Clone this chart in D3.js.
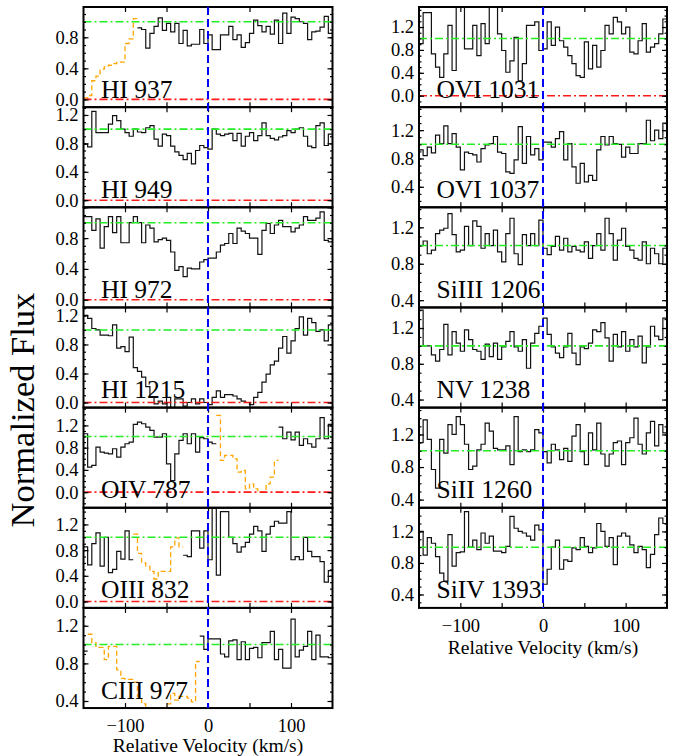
<!DOCTYPE html>
<html lang="en">
  <head>
    <meta charset="utf-8" />
    <title>Normalized flux stack</title>
    <script src="https://cdnjs.cloudflare.com/ajax/libs/d3/7.8.5/d3.min.js"></script>
    <style>
      body {
        margin: 0;
        background: #fff;
      }
      text {
        font-family: "Liberation Serif", "Times New Roman", serif;
        fill: #000;
      }
    </style>
  </head>
  <body>
    <svg id="chart" width="683" height="756"></svg>
    <script>
      // velocity grid: every series is binned at 5 km/s, starting at v0
      const binWidth = 5;
      const velDomain = [-150, 150];
      const xMajor = [-100, -50, 0, 50, 100];
      const xLabels = [-100, 0, 100];

      // left column
      const hi937Blend = [0.02, 0.05, 0.24, 0.3, 0.39, 0.42, 0.44, 0.46, 0.48, 0.48, 0.72, 0.78, 1.04];
      const hi937 = [0.92, 0.9, 0.66, 0.85, 0.94, 1.05, 0.89, 0.98, 0.87, 0.98, 0.72, 0.89, 0.69, 0.71, 0.71, 0.9, 0.72,
        0.83, 0.64, 0.64, 0.83, 0.83, 0.94, 0.77, 0.83, 0.67, 0.73, 0.85, 1.02, 0.95, 0.87, 0.94, 0.84, 1.02, 0.72, 1.11,
        0.85, 1.06, 1.04, 1.0, 0.98, 0.77, 0.87, 0.88, 0.93, 1.07, 0.85];
      const hi949 = [0.79, 0.75, 1.25, 0.95, 0.95, 0.95, 1.07, 1.19, 1.12, 1.0, 0.95, 0.9, 1.0, 0.96, 0.95, 1.02, 1.05,
        0.86, 0.76, 0.93, 0.91, 0.76, 0.68, 0.63, 0.57, 0.66, 0.51, 0.7, 0.77, 0.74, 0.72, 1.0, 0.93, 0.91, 0.93, 0.94,
        0.84, 0.94, 0.76, 0.9, 0.95, 0.84, 0.91, 1.09, 0.91, 0.87, 0.85, 0.89, 0.91, 0.98, 0.95, 1.0, 1.02, 0.9, 0.76,
        0.74, 1.05, 1.09, 0.77, 0.93];
      const hi972 = [1.08, 1.08, 0.9, 1.05, 0.67, 0.95, 1.08, 0.87, 1.08, 0.74, 0.74, 1.0, 1.08, 1.0, 0.74, 0.97, 0.93,
        0.75, 0.78, 0.8, 0.77, 0.62, 0.38, 0.43, 0.3, 0.41, 0.4, 0.4, 0.49, 0.52, 0.54, 0.54, 0.62, 0.71, 0.73, 0.86,
        0.73, 0.93, 0.89, 0.86, 0.8, 0.8, 0.59, 0.9, 0.99, 0.86, 0.97, 1.03, 0.95, 0.95, 0.88, 0.93, 0.97, 1.08, 1.03,
        1.03, 1.06, 1.14, 0.77, 0.75];
      const hi1215 = [1.2, 1.16, 1.02, 1.0, 0.93, 0.93, 0.92, 1.07, 0.75, 0.77, 0.7, 0.9, 0.48, 0.43, 0.35, 0.22, 0.07,
        -0.02, 0.02, -0.02, 0.07, -0.07, 0.05, 0.05, -0.05, 0.0, 0.05, -0.02, 0.05, 0.0, -0.03, 0.07, 0.16, 0.07, 0.11,
        0.11, 0.09, 0.05, 0.02, 0.0, -0.03, 0.07, 0.14, 0.28, 0.39, 0.52, 0.57, 0.75, 0.91, 0.68, 0.85, 1.02, 1.18, 0.93,
        1.16, 1.1, 0.98, 1.0, 0.85, 1.07];
      const oiv787 = [1.05, 0.45, 0.48, 0.81, 0.72, 0.7, 0.69, 0.78, 0.63, 0.81, 0.87, 0.9, 1.22, 1.26, 1.23, 1.17, 1.11,
        0.99, 0.99, 1.05, 0.51, 0.21, 0.69, 0.93, 1.05, 0.87, 1.05, 0.72, 0.98, 0.96, 0.9, 0.87];
      const oiv787Blend = [1.38, 0.57, 0.66, 0.66, 0.6, 0.36, 0.39, 0.06, 0.15, 0.06, 0.0, 0.0, 0.15, 0.27, 0.57];
      const oiv787Red = [1.17, 0.96, 1.08, 0.94, 1.08, 0.84, 0.96, 0.87, 0.81, 0.96, 1.34, 0.96, 1.22];
      const oiii832 = [0.85, 0.57, 0.9, 1.07, 0.55, 1.0, 0.45, 0.5, 0.78, 0.66, 1.1, 0.65];
      const oiii832Blend = [1.05, 0.75, 0.6, 0.55, 0.47, 0.35, 0.47, 0.47, 0.47, 0.85, 0.99, 0.85];
      const oiii832Red = [0.72, 0.7, 1.1, 1.1, 0.83, 1.1, 0.65, 1.45, 0.41, 1.4, 1.4, 1.0, 0.9, 0.77, 0.85, 0.92, 1.05,
        1.17, 1.1, 0.78, 1.05, 1.17, 1.25, 1.22, 1.22, 1.4, 0.65, 0.7, 0.65, 1.0, 0.78, 0.7, 0.7, 0.62, 0.3, 0.48];
      const ciii977Edge = [0.93];
      const ciii977Blend = [1.11, 1.02, 0.97, 0.97, 0.84, 0.98, 0.98, 0.73, 0.64, 0.63, 0.63, 0.6, 0.45, 0.37, 0.33,
        0.3, 0.28, 0.28, 0.3, 0.37, 0.48, 0.41, 0.45, 0.45, 0.43, 0.39, 0.82];
      const ciii977 = [1.09, 0.95, 1.06, 1.06, 1.06, 0.9, 0.87, 1.04, 1.05, 0.84, 1.03, 0.84, 0.96, 0.97, 0.86, 1.02, 1.02,
        1.14, 0.84, 0.95, 0.75, 0.75, 1.27, 0.87, 0.94, 0.98, 1.14, 0.84, 1.1, 0.87, 0.87, 0.86];

      // right column
      const ovi1031 = [0.91, 1.45, 1.45, 0.73, 0.5, 0.32, 0.73, 1.23, 0.44, 1.6, 1.6, 0.82, 0.82, 1.23, 0.7, 1.26, 0.91,
        1.6, 1.6, 1.08, 0.79, 0.41, 0.61, 1.02, 0.26, 0.56, 1.23, 1.23, 1.29, 0.79, 0.82, 1.29, 0.88, 1.2, 0.96, 0.85,
        0.7, 0.56, 0.35, 0.32, 0.94, 0.47, 0.88, 0.5, 0.79, 1.23, 1.08, 1.37, 1.29, 1.08, 1.2, 0.76, 0.73, 0.96, 1.26,
        0.76, 0.85, 0.91, 1.08, 1.34];
      const ovi1037 = [0.92, 0.84, 0.96, 0.88, 1.13, 1.01, 1.26, 1.01, 1.15, 0.96, 0.64, 0.89, 0.87, 0.85, 0.75, 0.94,
        0.99, 1.01, 1.11, 0.89, 0.87, 0.61, 0.59, 0.78, 1.25, 0.73, 1.11, 0.85, 0.94, 0.78, 1.03, 1.03, 0.96, 1.08, 1.18,
        0.78, 1.01, 0.68, 0.45, 0.73, 0.47, 0.56, 0.49, 0.92, 1.11, 0.99, 1.11, 1.01, 1.0, 0.82, 0.96, 0.87, 0.87, 1.01,
        1.01, 1.34, 1.05, 1.2, 1.08, 1.3];
      const siiii1206 = [1.0, 1.05, 0.91, 0.95, 1.13, 1.17, 1.19, 1.35, 1.12, 0.93, 0.95, 1.21, 1.0, 1.27, 1.21, 0.97,
        1.13, 1.0, 1.17, 0.93, 0.82, 1.13, 1.3, 0.91, 0.79, 1.12, 1.0, 1.13, 1.0, 1.28, 0.97, 0.9, 0.99, 1.1, 0.95, 1.08,
        0.93, 0.99, 0.95, 0.93, 1.04, 0.86, 1.0, 1.13, 0.95, 1.3, 1.13, 0.84, 1.06, 1.19, 0.99, 0.95, 0.86, 0.84, 1.04,
        0.8, 0.97, 0.91, 0.8, 0.97];
      const nv1238 = [1.4, 1.0, 1.0, 0.9, 0.83, 0.96, 1.24, 0.9, 1.16, 1.03, 0.94, 1.18, 1.07, 0.96, 0.94, 0.85, 1.02,
        0.88, 1.03, 0.85, 0.99, 1.05, 1.16, 0.99, 0.94, 1.07, 0.75, 1.03, 1.14, 1.22, 1.31, 1.13, 0.99, 0.92, 0.87, 0.99,
        1.14, 0.92, 0.79, 0.99, 0.97, 1.03, 1.18, 1.16, 1.26, 1.09, 0.83, 1.13, 0.99, 1.16, 0.94, 1.07, 0.99, 1.11, 0.81,
        0.99, 1.22, 1.11, 1.07, 1.31];
      const siii1260 = [1.1, 1.38, 1.14, 0.77, 0.54, 1.14, 0.97, 1.32, 1.2, 1.42, 1.32, 1.08, 0.77, 0.81, 1.01, 1.08,
        1.34, 1.24, 1.03, 1.01, 1.01, 1.06, 0.83, 1.42, 0.99, 1.01, 0.99, 1.01, 1.26, 1.22, 0.99, 0.85, 1.08, 1.01, 0.89,
        1.03, 0.87, 1.18, 1.32, 0.99, 0.83, 1.22, 1.01, 1.34, 0.96, 0.81, 0.96, 1.1, 1.12, 0.83, 1.1, 1.16, 1.4, 1.08,
        0.96, 1.22, 1.36, 1.06, 1.32, 1.22];
      const siiv1393 = [1.2, 0.9, 1.12, 1.05, 0.88, 0.67, 0.57, 1.16, 0.76, 0.93, 0.94, 1.45, 1.0, 1.09, 0.97, 1.18, 1.05,
        1.14, 0.95, 0.95, 0.93, 1.01, 1.39, 1.24, 1.2, 1.18, 1.14, 1.09, 1.28, 1.22, 0.53, 0.72, 1.0, 1.09, 0.72, 0.84,
        0.82, 0.99, 0.97, 1.12, 1.01, 0.93, 0.99, 1.3, 1.2, 1.01, 1.12, 0.78, 1.14, 1.18, 1.14, 1.03, 0.93, 1.01, 0.97,
        0.74, 0.91, 1.16, 1.37, 1.3];

      // panel table (col, row, y range, labelled ticks, series pieces)
      const panels = [
        { col: 0, row: 0, name: "HI 937", yDomain: [-0.1, 1.19], yLabels: [0, 0.4, 0.8],
          series: [{ v0: -150, f: hi937Blend, blend: true }, { v0: -85, f: hi937 }] },
        { col: 0, row: 1, name: "HI 949", yDomain: [-0.1, 1.31], yLabels: [0, 0.4, 0.8, 1.2],
          series: [{ v0: -150, f: hi949 }] },
        { col: 0, row: 2, name: "HI 972", yDomain: [-0.1, 1.2], yLabels: [0, 0.4, 0.8],
          series: [{ v0: -150, f: hi972 }] },
        { col: 0, row: 3, name: "HI 1215", yDomain: [-0.07, 1.31], yLabels: [0, 0.4, 0.8, 1.2],
          series: [{ v0: -150, f: hi1215 }] },
        { col: 0, row: 4, name: "OIV 787", yDomain: [-0.28, 1.52], yLabels: [0, 0.4, 0.8, 1.2],
          series: [{ v0: -150, f: oiv787 }, { v0: 10, f: oiv787Blend, blend: true }, { v0: 85, f: oiv787Red }] },
        { col: 0, row: 5, name: "OIII 832", yDomain: [-0.1, 1.46], yLabels: [0, 0.4, 0.8, 1.2],
          series: [{ v0: -150, f: oiii832 }, { v0: -90, f: oiii832Blend, blend: true }, { v0: -30, f: oiii832Red }] },
        { col: 0, row: 6, name: "CIII 977", yDomain: [0.325, 1.39], yLabels: [0.4, 0.8, 1.2],
          series: [{ v0: -150, f: ciii977Edge }, { v0: -145, f: ciii977Blend, blend: true }, { v0: -10, f: ciii977 }] },
        { col: 1, row: 0, name: "OVI 1031", yDomain: [-0.2, 1.55], yLabels: [0, 0.4, 0.8, 1.2],
          series: [{ v0: -150, f: ovi1031 }] },
        { col: 1, row: 1, name: "OVI 1037", yDomain: [0.11, 1.525], yLabels: [0.4, 0.8, 1.2],
          series: [{ v0: -150, f: ovi1037 }] },
        { col: 1, row: 2, name: "SiIII 1206", yDomain: [0.32, 1.42], yLabels: [0.4, 0.8, 1.2],
          series: [{ v0: -150, f: siiii1206 }] },
        { col: 1, row: 3, name: "NV 1238", yDomain: [0.31, 1.43], yLabels: [0.4, 0.8, 1.2],
          series: [{ v0: -150, f: nv1238 }] },
        { col: 1, row: 4, name: "SiII 1260", yDomain: [0.3, 1.53], yLabels: [0.4, 0.8, 1.2],
          series: [{ v0: -150, f: siii1260 }] },
        { col: 1, row: 5, name: "SiIV 1393", yDomain: [0.23, 1.5], yLabels: [0.4, 0.8, 1.2],
          series: [{ v0: -150, f: siiv1393 }] },
      ];

      // layout
      const cols = [
        { left: 83.5, right: 332.5, rows: 7 },
        { left: 419, right: 667, rows: 6 },
      ];
      const top0 = 7;
      const panelH = 100.15;
      const fontTick = 18.5;

      const svg = d3.select("#chart");
      const defs = svg.append("defs");
      const fmt = d3.format(".1f");

      const stepLine = (x, y) =>
        d3.line().x((d) => x(d[0])).y((d) => y(d[1])).curve(d3.curveStepAfter);

      panels.forEach((p, k) => {
        const c = cols[p.col];
        const top = top0 + p.row * panelH;
        const bottom = top + panelH;
        const x = d3.scaleLinear().domain(velDomain).range([c.left, c.right]);
        const y = d3.scaleLinear().domain(p.yDomain).range([bottom, top]);
        const g = svg.append("g");

        defs.append("clipPath").attr("id", "clip" + k)
          .append("rect")
          .attr("x", c.left).attr("y", top)
          .attr("width", c.right - c.left).attr("height", bottom - top);
        const inner = g.append("g").attr("clip-path", `url(#clip${k})`);

        // spectra
        p.series.forEach((s) => {
          const pts = s.f.map((v, i) => [s.v0 + i * binWidth, v]);
          pts.push([s.v0 + s.f.length * binWidth, s.f[s.f.length - 1]]);
          inner.append("path")
            .attr("d", stepLine(x, y)(pts))
            .attr("fill", "none")
            .attr("stroke", s.blend ? "#ffa500" : "#111")
            .attr("stroke-width", s.blend ? 1.3 : 1.2)
            .attr("stroke-dasharray", s.blend ? "5,3" : null);
        });

        // continuum and zero level
        inner.append("line")
          .attr("x1", c.left).attr("x2", c.right)
          .attr("y1", y(1)).attr("y2", y(1))
          .attr("stroke", "#22ee22").attr("stroke-width", 1.6)
          .attr("stroke-dasharray", "8,3,2,3");
        if (p.yDomain[0] < 0) {
          inner.append("line")
            .attr("x1", c.left).attr("x2", c.right)
            .attr("y1", y(0)).attr("y2", y(0))
            .attr("stroke", "#ff1a1a").attr("stroke-width", 1.6)
            .attr("stroke-dasharray", "8,3,2,3");
        }

        // tick marks on all four sides
        const yMinor = d3.range(Math.ceil(p.yDomain[0] * 10), Math.floor(p.yDomain[1] * 10) + 1).map((v) => v / 10);
        const yMajor = yMinor.filter((v) => Math.abs(Math.round(v * 10) % 4) === 0);
        const tickStyle = (sel) => {
          sel.select(".domain").remove();
          sel.selectAll(".tick line").attr("stroke", "#000").attr("stroke-width", 1.2);
        };
        g.append("g").attr("transform", `translate(0,${bottom})`)
          .call(d3.axisTop(x).tickValues(xMajor).tickSize(5).tickFormat(""))
          .call(tickStyle);
        g.append("g").attr("transform", `translate(0,${top})`)
          .call(d3.axisBottom(x).tickValues(xMajor).tickSize(5).tickFormat(""))
          .call(tickStyle);
        [[d3.axisRight, c.left], [d3.axisLeft, c.right]].forEach(([ax, pos]) => {
          g.append("g").attr("transform", `translate(${pos},0)`)
            .call(ax(y).tickValues(yMinor).tickSize(2.5).tickFormat(""))
            .call(tickStyle);
          g.append("g").attr("transform", `translate(${pos},0)`)
            .call(ax(y).tickValues(yMajor).tickSize(5).tickFormat(""))
            .call(tickStyle);
        });

        // y tick labels
        const yl = g.append("g").attr("transform", `translate(${c.left},0)`)
          .call(d3.axisLeft(y).tickValues(p.yLabels).tickSize(0).tickPadding(5).tickFormat(fmt));
        yl.select(".domain").remove();
        yl.attr("font-family", null).attr("font-size", null);
        yl.selectAll("text").style("font-size", fontTick + "px");

        // frame
        g.append("rect")
          .attr("x", c.left).attr("y", top)
          .attr("width", c.right - c.left).attr("height", bottom - top)
          .attr("fill", "none").attr("stroke", "#000").attr("stroke-width", 2);

        // line name
        g.append("text")
          .attr("x", c.left + 17.5).attr("y", bottom - 9.5)
          .style("font-size", "25.5px")
          .text(p.name);

        // bottom axis labels on the last panel of each column
        if (p.row === c.rows - 1) {
          const xl = g.append("g").attr("transform", `translate(0,${bottom})`)
            .call(d3.axisBottom(x).tickValues(xLabels).tickSize(0).tickPadding(10.5).tickFormat(d3.format("d")));
          xl.select(".domain").remove();
          xl.attr("font-family", null).attr("font-size", null);
          xl.selectAll("text").style("font-size", fontTick + "px");
          g.append("text")
            .attr("x", x(0)).attr("y", Math.min(bottom + 46, 751.5))
            .attr("text-anchor", "middle")
            .style("font-size", "19.5px")
            .text("Relative Velocity (km/s)");
        }
      });

      // systemic velocity marker through each column
      cols.forEach((c) => {
        const x = d3.scaleLinear().domain(velDomain).range([c.left, c.right]);
        svg.append("line")
          .attr("x1", x(0)).attr("x2", x(0))
          .attr("y1", top0).attr("y2", top0 + c.rows * panelH)
          .attr("stroke", "#0000ff").attr("stroke-width", 2)
          .attr("stroke-dasharray", "8,4");
      });

      svg.append("text")
        .attr("transform", "translate(34,410) rotate(-90)")
        .attr("text-anchor", "middle")
        .style("font-size", "34.5px")
        .text("Normalized Flux");
    </script>
  </body>
</html>
